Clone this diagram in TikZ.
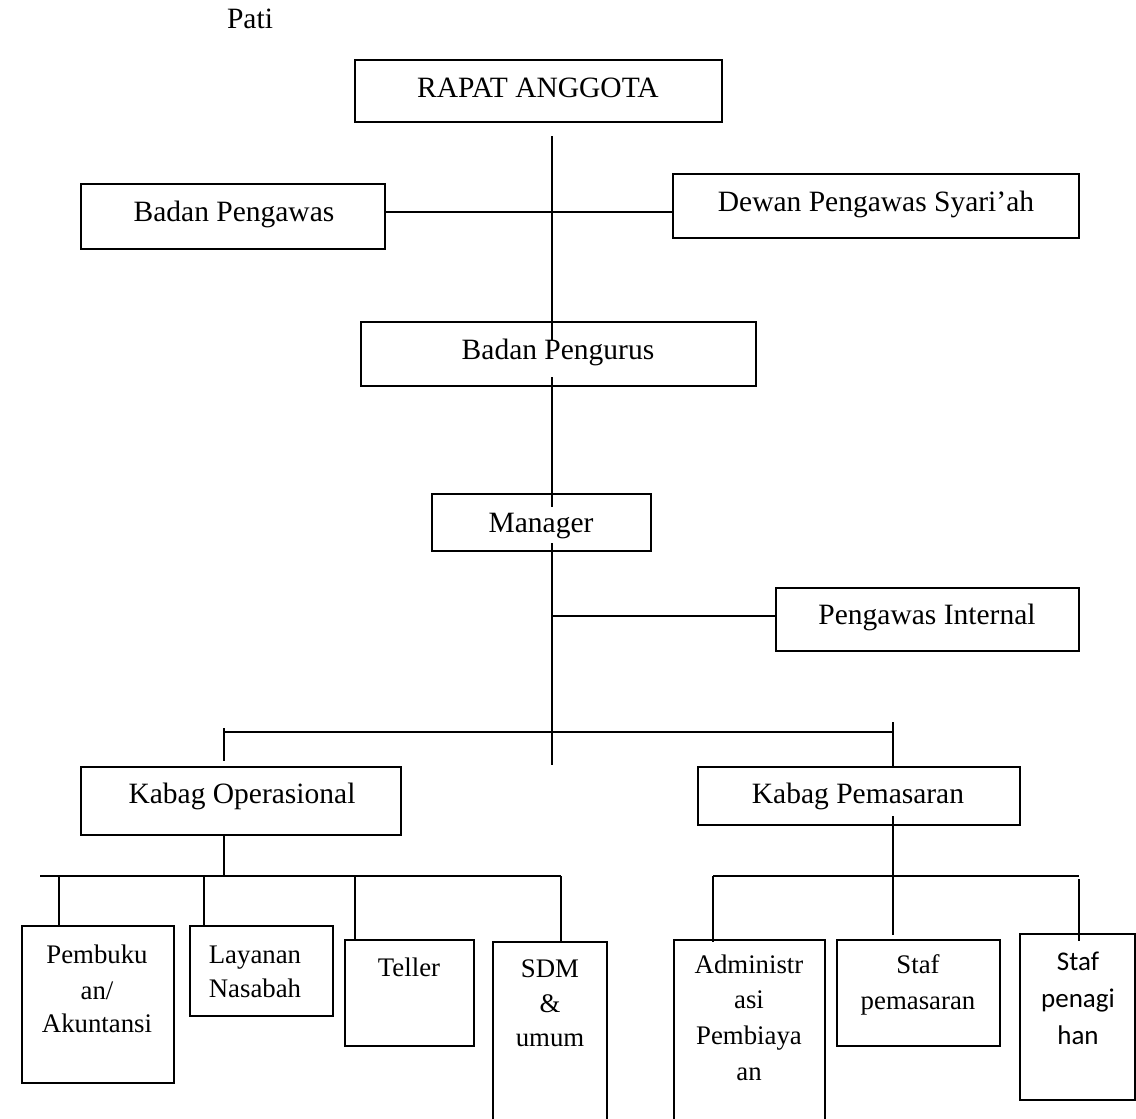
\documentclass[tikz,border=0pt]{standalone}
\usepackage{fontspec}
\setmainfont{Liberation Serif}
\newfontfamily\calib{Carlito}
\usetikzlibrary{fit}
\begin{document}
\begin{tikzpicture}[x=0.5pt,y=-0.5pt,
  box/.style={draw, line width=1pt, inner sep=0pt, outer sep=0pt},
  conn/.style={line width=1pt},
  lbl/.style={anchor=base, inner sep=0pt, font=\fontsize{14.75}{17.5}\selectfont},
  lbls/.style={anchor=base, inner sep=0pt, font=\fontsize{13.4}{16}\selectfont},
  lblc/.style={anchor=base, inner sep=0pt, font=\calib\fontsize{13.5}{16}\selectfont}]
\useasboundingbox (0,0) rectangle (1136,1119);
\clip (0,0) rectangle (1136,1119);
% boxes
\node[box, fit={(355,60) (722,122)}] (rapat) {};
\node[box, fit={(81,184) (385,249)}] (bp) {};
\node[box, fit={(673,174) (1079,238)}] (dps) {};
\node[box, fit={(361,322) (756,386)}] (pengurus) {};
\node[box, fit={(432,494) (651,551)}] (manager) {};
\node[box, fit={(776,588) (1079,651)}] (pi) {};
\node[box, fit={(81,767) (401,835)}] (kop) {};
\node[box, fit={(698,767) (1020,825)}] (kpm) {};
\node[box, fit={(22,926) (174,1083)}] (pemb) {};
\node[box, fit={(190,926) (333,1016)}] (lay) {};
\node[box, fit={(345,940) (474,1046)}] (tel) {};
\node[box, fit={(493,942) (607,1140)}] (sdm) {};
\node[box, fit={(674,940) (825,1140)}] (adm) {};
\node[box, fit={(837,940) (1000,1046)}] (spm) {};
\node[box, fit={(1020,934) (1135,1100)}] (spn) {};
% coordinates
\coordinate (hy) at (552,212);
\coordinate (piy) at (552,616);
% connectors
\draw[conn] (552,136) -- (552,340);
\draw[conn] (552,377) -- (552,507);
\draw[conn] (552,543) -- (552,765);
\draw[conn] (bp.east |- hy) -- (dps.west |- hy);
\draw[conn] (piy) -- (pi.west |- piy);
\draw[conn] (224,732) -- (893,732);
\draw[conn] (224,728) -- (224,761);
\draw[conn] (893,722) -- (893,767);
\draw[conn] (893,816) -- (893,935);
\draw[conn] (224,835) -- (224,876);
\draw[conn] (40,876) -- (561,876);
\draw[conn] (59,876) -- (59,926);
\draw[conn] (204,876) -- (204,926);
\draw[conn] (355,876) -- (355,939);
\draw[conn] (561,876) -- (561,941);
\draw[conn] (713,876) -- (1079,876);
\draw[conn] (713,876) -- (713,942);
\draw[conn] (1079,879) -- (1079,941);
% texts
\node[lbl] (pati) at (250,28) {Pati};
\node[lbl] (trapat) at (538,97) {RAPAT ANGGOTA};
\node[lbl] (tbp) at (234,221) {Badan Pengawas};
\node[lbl] (tdps) at (876,211) {Dewan Pengawas Syari’ah};
\node[lbl] (tpengurus) at (558,359) {Badan Pengurus};
\node[lbl] (tmanager) at (541,532) {Manager};
\node[lbl] (tpi) at (927,624) {Pengawas Internal};
\node[lbl] (tkop) at (242,803) {Kabag Operasional};
\node[lbl] (tkpm) at (858,803) {Kabag Pemasaran};
\node[lbls] (tpemb1) at (97,963) {Pembuku};
\node[lbls] (tpemb2) at (97,999) {an/};
\node[lbls] (tpemb3) at (97,1032) {Akuntansi};
\node[lbls] (tlay1) at (255,963) {Layanan};
\node[lbls] (tlay2) at (255,997) {Nasabah};
\node[lbls] (ttel) at (409,976) {Teller};
\node[lbls] (tsdm1) at (550,977) {SDM};
\node[lbls] (tsdm2) at (550,1012) {\&};
\node[lbls] (tsdm3) at (550,1046) {umum};
\node[lbls] (tadm1) at (749,973) {Administr};
\node[lbls] (tadm2) at (749,1008) {asi};
\node[lbls] (tadm3) at (749,1044) {Pembiaya};
\node[lbls] (tadm4) at (749,1080) {an};
\node[lbls] (tspm1) at (918,973) {Staf};
\node[lbls] (tspm2) at (918,1009) {pemasaran};
\node[lblc] (tspn1) at (1078,970) {Staf};
\node[lblc] (tspn2) at (1078,1007) {penagi};
\node[lblc] (tspn3) at (1078,1044) {han};
\end{tikzpicture}
\end{document}
